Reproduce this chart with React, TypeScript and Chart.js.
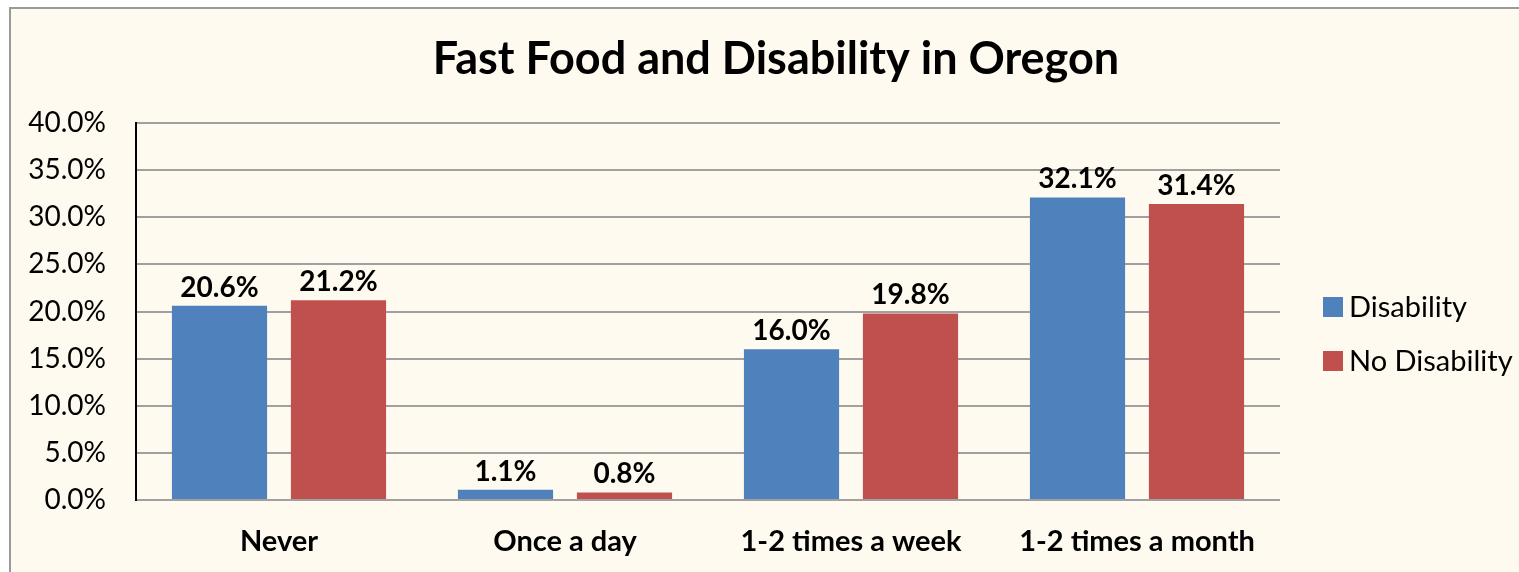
import React, { useEffect, useRef } from "react";
import { Chart, registerables } from "chart.js";

Chart.register(...registerables);

const categories = ["Never", "Once a day", "1-2 times a week", "1-2 times a month"];
const disability = [20.6, 1.1, 16.0, 32.1];
const noDisability = [21.2, 0.8, 19.8, 31.4];
const seriesNames = ["Disability", "No Disability"];
const seriesColors = ["#4F81BD", "#C0504D"];
const chartTitle = "Fast Food and Disability in Oregon";

const FONT = "Lato, 'Open Sans', sans-serif";
const BG = "#FFFAEF";

const frame = {
  id: "frame",
  beforeDraw(chart: any) {
    const { ctx } = chart;
    ctx.save();
    ctx.fillStyle = "#FFFFFF";
    ctx.fillRect(0, 0, chart.width, chart.height);
    ctx.fillStyle = BG;
    ctx.fillRect(10, 8, chart.width + 20, chart.height + 20);
    ctx.strokeStyle = "#9A9A9A";
    ctx.lineWidth = 2;
    ctx.beginPath();
    ctx.moveTo(10, chart.height + 20);
    ctx.lineTo(10, 8);
    ctx.lineTo(chart.width + 20, 8);
    ctx.stroke();
    ctx.restore();
  },
  afterDraw(chart: any) {
    const { ctx } = chart;
    ctx.save();
    ctx.fillStyle = "#000";
    ctx.font = `bold 45px ${FONT}`;
    ctx.textAlign = "center";
    ctx.textBaseline = "alphabetic";
    ctx.fillText(chartTitle, 776, 74);
    // legend
    const ys = [307, 361];
    ctx.font = `29px ${FONT}`;
    ctx.textAlign = "left";
    ctx.textBaseline = "middle";
    chart.data.datasets.forEach((ds: any, i: number) => {
      ctx.fillStyle = ds.backgroundColor;
      ctx.fillRect(1323, ys[i] - 10, 20, 20);
      ctx.fillStyle = "#000";
      ctx.fillText(ds.label, 1349, ys[i] + 1);
    });
    ctx.restore();
  },
  afterDatasetsDraw(chart: any) {
    const { ctx } = chart;
    ctx.save();
    ctx.fillStyle = "#000";
    ctx.font = `bold 28px ${FONT}`;
    ctx.textAlign = "center";
    ctx.textBaseline = "alphabetic";
    chart.data.datasets.forEach((ds: any, i: number) => {
      const meta = chart.getDatasetMeta(i);
      meta.data.forEach((bar: any, j: number) => {
        ctx.fillText(ds.data[j].toFixed(1) + "%", bar.x, bar.y - 9);
      });
    });
    ctx.restore();
  },
};

export default function App() {
  const ref = useRef<HTMLCanvasElement>(null);
  useEffect(() => {
    document.body.style.margin = "0";
    document.body.style.overflow = "hidden";
    document.documentElement.style.overflow = "hidden";
    document.body.style.background = BG;
    const chart = new Chart(ref.current!, {
      type: "bar",
      data: {
        labels: categories,
        datasets: [
          { label: seriesNames[0], data: disability, backgroundColor: seriesColors[0] },
          { label: seriesNames[1], data: noDisability, backgroundColor: seriesColors[1] },
        ],
      },
      options: {
        animation: false,
        responsive: false,
        maintainAspectRatio: false,
        layout: { padding: { top: 123, right: 239, bottom: 0, left: 0 } },
        datasets: { bar: { categoryPercentage: 0.832, barPercentage: 0.8 } },
        plugins: { legend: { display: false }, title: { display: false }, tooltip: { enabled: false } },
        scales: {
          x: {
            grid: { display: false },
            border: { display: false },
            ticks: { color: "#000", font: { family: FONT, size: 29, weight: "bold" }, padding: 16, maxRotation: 0 },
            afterFit: (s: any) => { s.height = 72; },
          },
          y: {
            min: 0,
            max: 40,
            ticks: {
              stepSize: 5,
              color: "#000",
              padding: 30,
              font: { family: FONT, size: 28 },
              callback: (v: any) => Number(v).toFixed(1) + "%",
            },
            grid: { color: "#A0A0A0", lineWidth: 2, drawTicks: false },
            border: { color: "#000", width: 2 },
            afterFit: (s: any) => { s.width = 136; },
          },
        },
      },
      plugins: [frame],
    });
    return () => chart.destroy();
  }, []);
  return (
    <div style={{ position: "fixed", left: 0, top: 0, width: 1519, height: 572 }}>
      <canvas ref={ref} width={1519} height={572} style={{ display: "block" }} />
    </div>
  );
}
